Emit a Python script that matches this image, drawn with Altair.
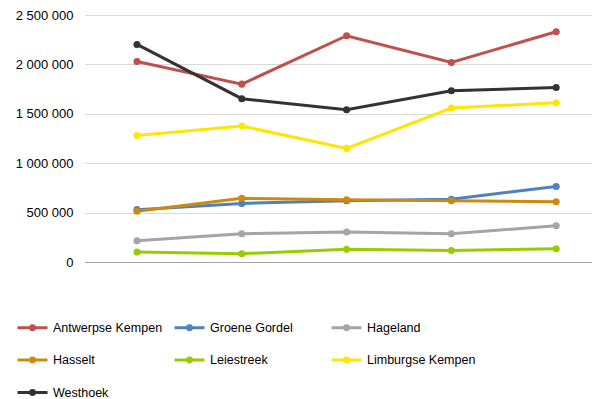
import altair as alt
import pandas as pd

periods = ["1", "2", "3", "4", "5"]
series = ["Antwerpse Kempen", "Groene Gordel", "Hageland", "Hasselt",
          "Leiestreek", "Limburgse Kempen", "Westhoek"]
colors = ["#C0504D", "#4F81BD", "#A5A5A5", "#CC8A0E", "#99CC00", "#FFE600", "#333333"]

antwerpse_kempen = [2030000, 1800000, 2290000, 2020000, 2330000]
groene_gordel = [530000, 593000, 620000, 635000, 765000]
hageland = [214000, 286000, 303000, 286000, 367000]
hasselt = [514000, 644000, 630000, 620000, 610000]
leiestreek = [101000, 84000, 128000, 117000, 135000]
limburgse_kempen = [1281000, 1376000, 1150000, 1558000, 1612000]
westhoek = [2202000, 1653000, 1541000, 1733000, 1767000]

values = [antwerpse_kempen, groene_gordel, hageland, hasselt,
          leiestreek, limburgse_kempen, westhoek]

rows = []
for name, vals in zip(series, values):
    for p, v in zip(periods, vals):
        rows.append({"period": p, "region": name, "value": v})
df = pd.DataFrame(rows)

FONT = "Liberation Sans"

color = alt.Color(
    "region:N",
    scale=alt.Scale(domain=series, range=colors),
    legend=alt.Legend(
        title=None,
        orient="none",
        legendX=-69,
        legendY=296,
        direction="horizontal",
        columns=3,
        gridAlign="all",
        columnPadding=5,
        rowPadding=7.5,
        symbolType="M-1,0L1,0M-0.13,0A0.13,0.13,0,1,1,0.13,0A0.13,0.13,0,1,1,-0.13,0Z",
        symbolSize=900,
        symbolStrokeWidth=3,
        labelFont=FONT,
        labelFontSize=12.5,
        labelColor="#000000",
        labelOffset=4,
        labelLimit=300,
    ),
)

x = alt.X("period:N", sort=periods,
          scale=alt.Scale(padding=0.419, align=0.592),
          axis=alt.Axis(title=None, labels=False, ticks=False, domain=True,
                        domainColor="#A6A6A6", domainWidth=1, grid=False))
y = alt.Y("value:Q",
          scale=alt.Scale(domain=[0, 2500000], nice=False),
          axis=alt.Axis(title=None, values=[0, 500000, 1000000, 1500000, 2000000, 2500000],
                        labelExpr="replace(format(datum.value, ','), regexp(',', 'g'), ' ')",
                        domain=False, ticks=False, labelPadding=12,
                        labelFont=FONT, labelFontSize=13, labelColor="#000000",
                        gridColor="#D9D9D9", gridWidth=1))

base = alt.Chart(df).encode(x=x, y=y, color=color)
lines = base.mark_line(strokeWidth=3)
points = base.mark_point(filled=True, size=50, opacity=1)

chart = alt.layer(lines, points).properties(
    width=507,
    height=247,
    autosize=alt.AutoSizeParams(type="none"),
    padding={"left": 77, "top": 7, "right": 0, "bottom": 137},
).configure_view(stroke=None)

chart.save("out.html", embed_options={"renderer": "svg", "actions": False})
